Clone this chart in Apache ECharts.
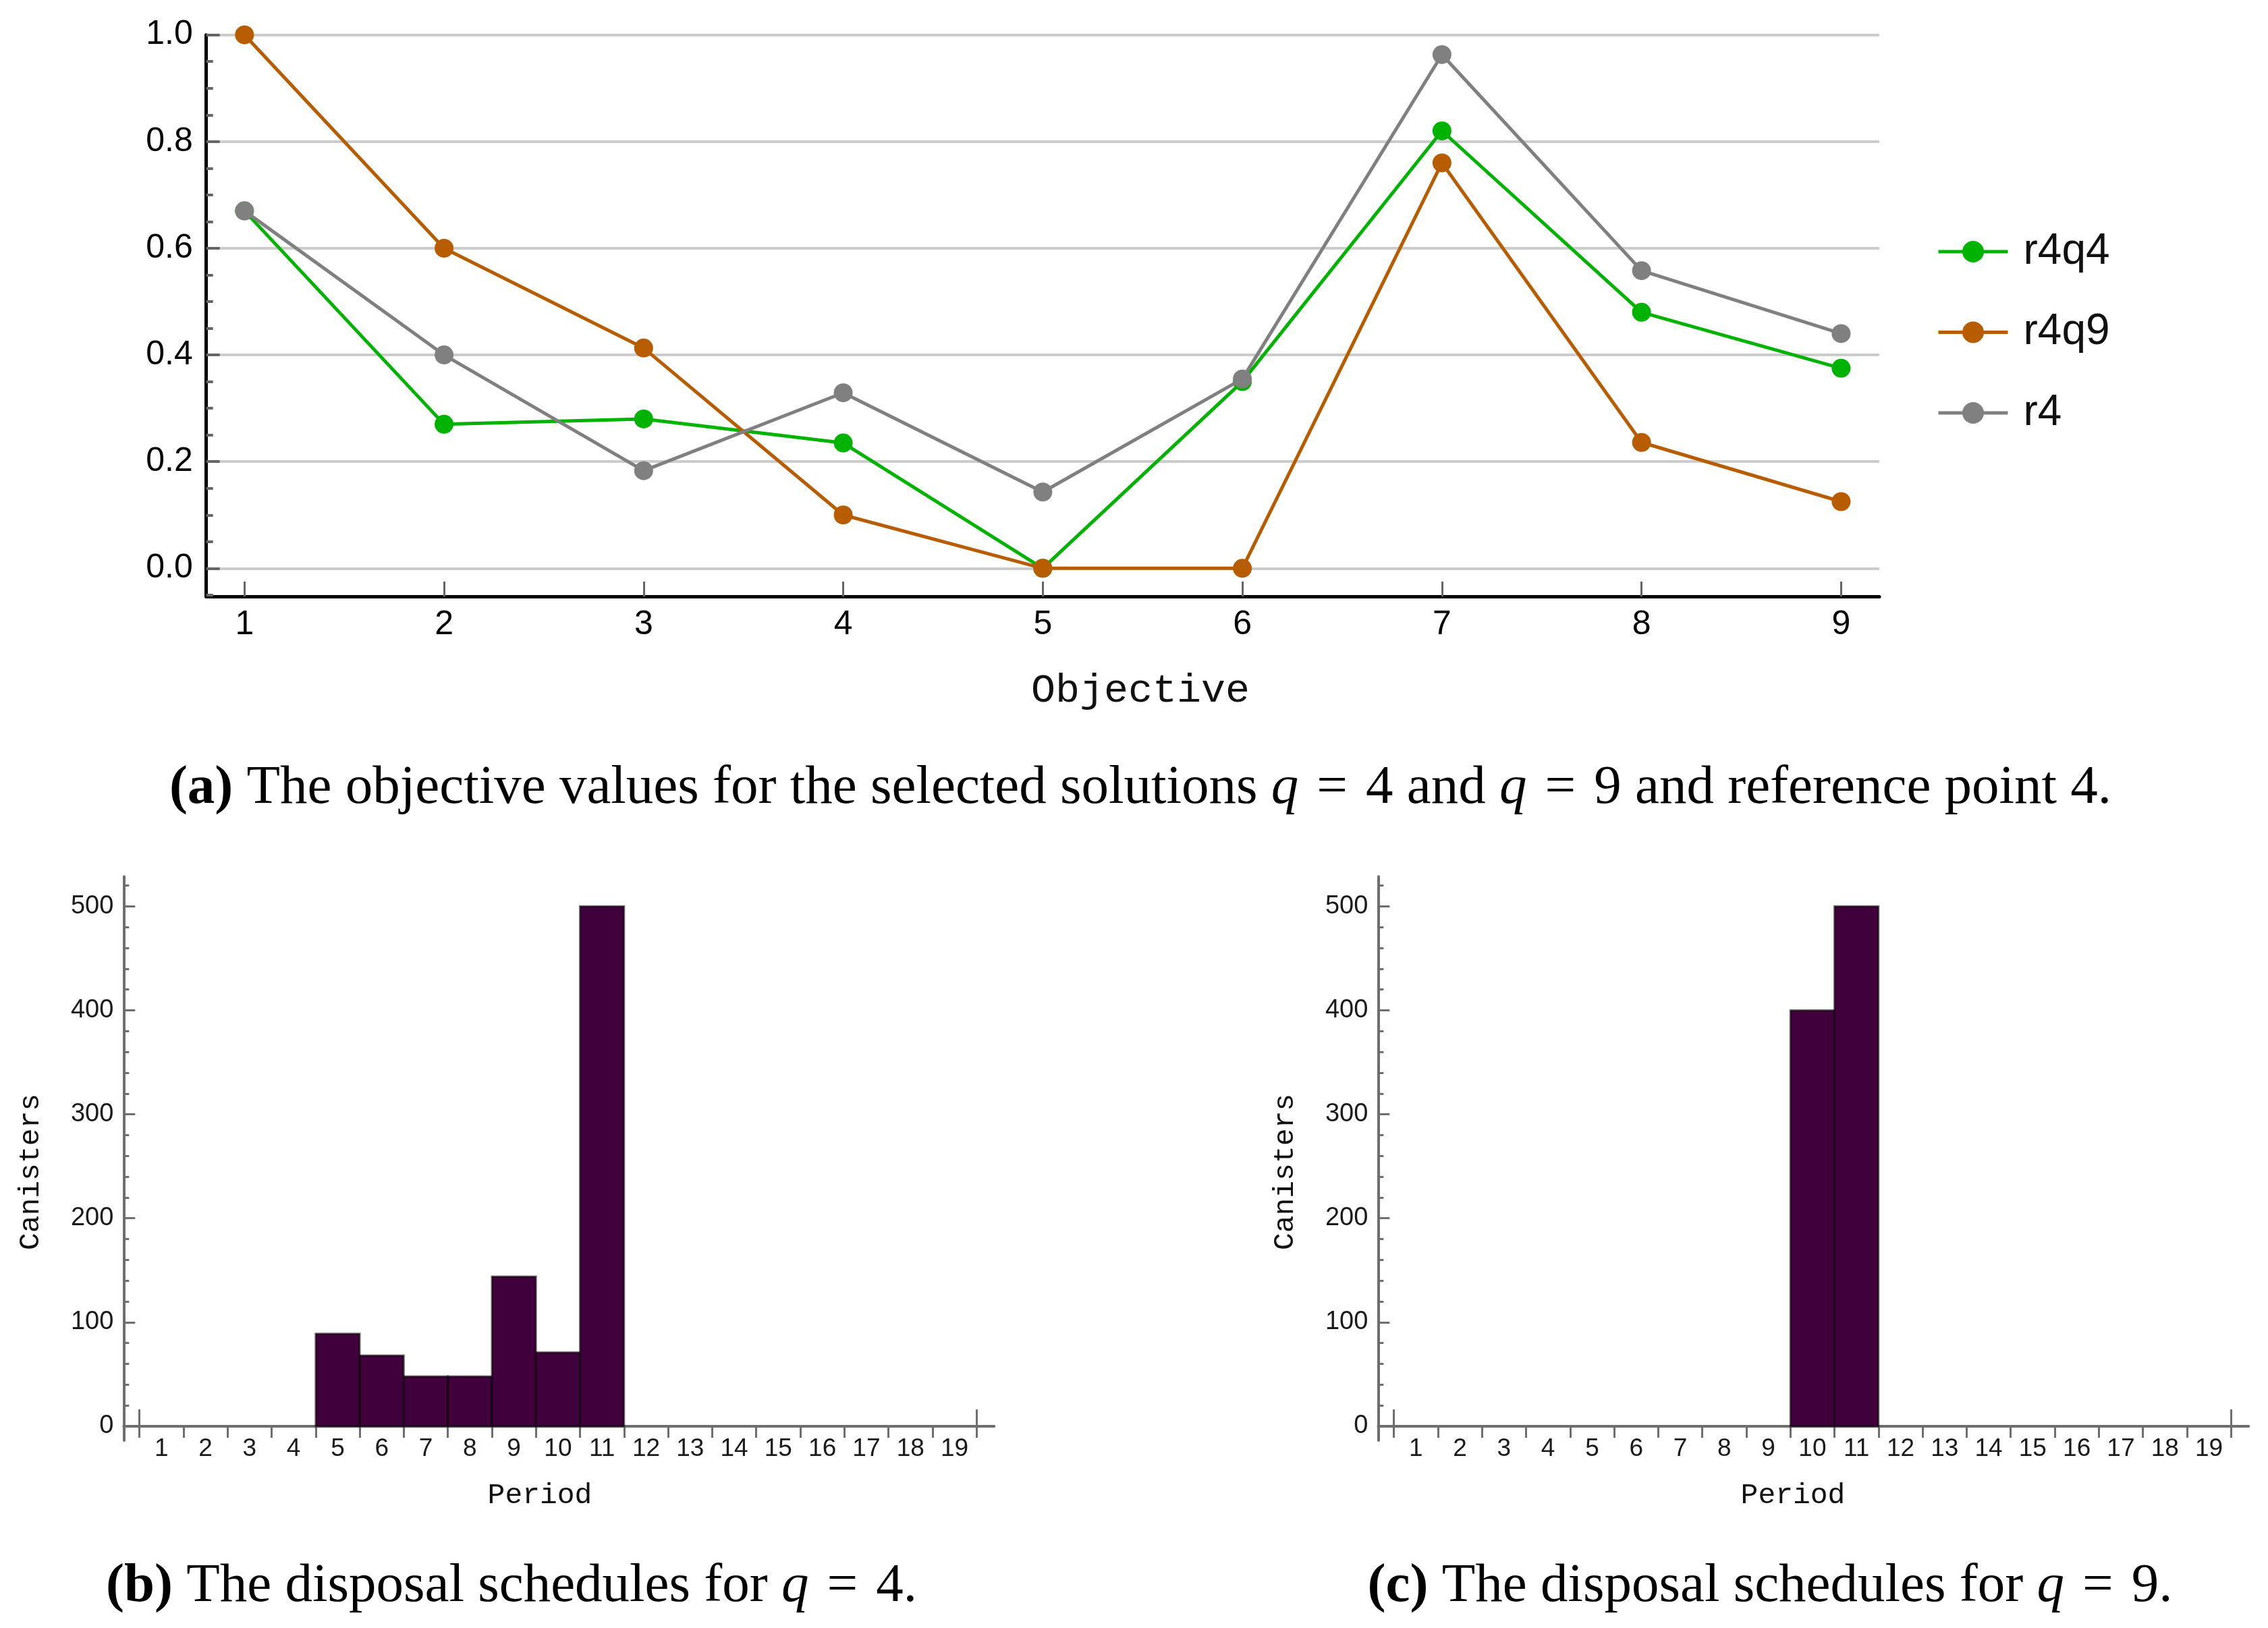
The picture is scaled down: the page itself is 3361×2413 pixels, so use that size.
<!DOCTYPE html>
<html>
<head>
<meta charset="utf-8">
<script src="https://cdn.jsdelivr.net/npm/echarts@6/dist/echarts.min.js"></script>
<style>
html,body{margin:0;padding:0;background:#fff;}
#c{width:3361px;height:2413px;}
</style>
</head>
<body>
<div id="c"></div>
<script>
// ---- data ----
const objectives = [1, 2, 3, 4, 5, 6, 7, 8, 9];
const r4q4 = [0.67, 0.27, 0.28, 0.235, 0.0, 0.35, 0.82, 0.48, 0.375];
const r4q9 = [1.0, 0.6, 0.413, 0.1, 0.0, 0.0, 0.76, 0.236, 0.125];
const r4 = [0.67, 0.4, 0.183, 0.329, 0.143, 0.355, 0.963, 0.558, 0.44];
const seriesNames = ['r4q4', 'r4q9', 'r4'];

const periods = [1,2,3,4,5,6,7,8,9,10,11,12,13,14,15,16,17,18,19];
const canistersQ4 = [0,0,0,0,89,68,48,48,144,71,500,0,0,0,0,0,0,0,0];
const canistersQ9 = [0,0,0,0,0,0,0,0,0,400,500,0,0,0,0,0,0,0,0];

const objMajorTicks = [0, 0.2, 0.4, 0.6, 0.8, 1.0];
const objMinorTicks = [-0.05, 0.05, 0.1, 0.15, 0.25, 0.3, 0.35, 0.45, 0.5, 0.55, 0.65, 0.7, 0.75, 0.85, 0.9, 0.95];
const canMajorTicks = [0, 100, 200, 300, 400, 500];
const canMinorTicks = [20, 40, 60, 80, 120, 140, 160, 180, 220, 240, 260, 280, 320, 340, 360, 380, 420, 440, 460, 480, 520];
const periodEdges = [0.5,1.5,2.5,3.5,4.5,5.5,6.5,7.5,8.5,9.5,10.5,11.5,12.5,13.5,14.5,15.5,16.5,17.5,18.5,19.5];
const periodEndEdges = [0.5, 19.5];

// ---- styles ----
const SANS = '"Liberation Sans", Arial, sans-serif';
const MONO = '"Liberation Mono", "DejaVu Sans Mono", monospace';
const SERIF = '"Liberation Serif", "DejaVu Serif", serif';
const lineColors = ['#00b300', '#b85c00', '#808080'];
const barFill = '#3f003b';
const botAxisColor = '#6e6e6e';
const CAP = 81;
const SP = '\u2004';

const chart = echarts.init(document.getElementById('c'), null, {renderer: 'canvas'});

function botX(gridIndex) {
  return [{
    type: 'value', gridIndex, min: 0.143, max: 19.9,
    axisLine: {show: true, onZero: true, lineStyle: {color: botAxisColor, width: 4}},
    axisTick: {show: true, inside: false, length: 17, customValues: periodEdges, lineStyle: {color: botAxisColor, width: 3}},
    axisLabel: {show: true, customValues: periods, margin: -6, fontSize: 37, fontFamily: SANS, color: '#1a1a1a'},
    splitLine: {show: false}
  }, {
    type: 'value', gridIndex, min: 0.143, max: 19.9,
    axisLine: {show: false, onZero: true},
    axisTick: {show: true, inside: false, length: 25, customValues: periodEndEdges, lineStyle: {color: botAxisColor, width: 3}},
    axisLabel: {show: false},
    splitLine: {show: false}
  }];
}
function botY(gridIndex) {
  return [{
    type: 'value', gridIndex, min: -13.7, max: 528.6, position: 'left',
    axisLine: {show: true, onZero: false, lineStyle: {color: botAxisColor, width: 4}},
    axisTick: {show: true, inside: true, length: 17, customValues: canMajorTicks, lineStyle: {color: botAxisColor, width: 3}},
    axisLabel: {show: true, customValues: canMajorTicks, margin: 15, fontSize: 38, fontFamily: SANS, color: '#1a1a1a'},
    splitLine: {show: false}
  }, {
    type: 'value', gridIndex, min: -13.7, max: 528.6, position: 'left',
    axisLine: {show: false, onZero: false},
    axisTick: {show: true, inside: true, length: 8, customValues: canMinorTicks, lineStyle: {color: botAxisColor, width: 3}},
    axisLabel: {show: false},
    splitLine: {show: false}
  }];
}

function barRender(params, api) {
  const x = api.value(0), v = api.value(1);
  if (!v) return {type: 'group', children: []};
  const p0 = api.coord([x - 0.5, 0]);
  const p1 = api.coord([x + 0.5, v]);
  return {
    type: 'rect',
    shape: {x: p0[0], y: p1[1], width: p1[0] - p0[0], height: p0[1] - p1[1]},
    style: {fill: barFill, stroke: 'rgba(0,0,0,0.55)', lineWidth: 3}
  };
}

const lineData = [r4q4, r4q9, r4];
const lineSeries = lineData.map((arr, i) => ({
  name: seriesNames[i], type: 'line', xAxisIndex: 0, yAxisIndex: 0,
  data: objectives.map((o, k) => [o, arr[k]]),
  symbol: 'circle', symbolSize: 28,
  lineStyle: {color: lineColors[i], width: 5},
  itemStyle: {color: lineColors[i]},
  emphasis: {disabled: true}, z: 3 + i
}));

const bx1 = botX(1), bx2 = botX(2), by1 = botY(1), by2 = botY(2);

function caption(x, y, label, body) {
  return {type: 'text', x, y, style: {
    text: '{b|' + label + '} ' + body,
    font: CAP + 'px ' + SERIF, fill: '#000', textAlign: 'center', textVerticalAlign: 'middle',
    rich: {b: {fontWeight: 'bold', fontSize: CAP, fontFamily: SERIF}, i: {fontStyle: 'italic', fontSize: CAP, fontFamily: SERIF}}
  }};
}

const option = {
  animation: false,
  backgroundColor: '#ffffff',
  grid: [
    {left: 305.7, top: 51.7, width: 2479.3, height: 832.3, outerBoundsMode: 'none'},
    {left: 183.3, top: 1299.3, width: 1290, height: 835.7, outerBoundsMode: 'none'},
    {left: 2042.3, top: 1299.3, width: 1290, height: 835.7, outerBoundsMode: 'none'}
  ],
  legend: {
    show: true, orient: 'vertical', left: 2865, top: 336,
    itemWidth: 103, itemHeight: 40, itemGap: 55.5,
    data: seriesNames,
    lineStyle: {width: 5},
    textStyle: {fontSize: 64, lineHeight: 60, fontFamily: SANS, color: '#111', padding: [0, 0, 0, 18]}
  },
  xAxis: [
    {
      type: 'value', gridIndex: 0, min: 0.8086, max: 9.1914,
      axisLine: {show: true, onZero: false, lineStyle: {color: '#000', width: 5}},
      axisTick: {show: true, inside: true, length: 22, customValues: objectives, lineStyle: {color: '#666', width: 3}},
      axisLabel: {show: true, customValues: objectives, margin: 17, fontSize: 50, fontFamily: SANS, color: '#000'},
      splitLine: {show: false}
    },
    bx1[0], bx1[1], bx2[0], bx2[1]
  ],
  yAxis: [
    {
      type: 'value', gridIndex: 0, min: -0.0527, max: 1.0, position: 'left',
      axisLine: {show: true, onZero: false, lineStyle: {color: '#000', width: 5}},
      axisTick: {show: true, inside: true, length: 20, customValues: objMajorTicks, lineStyle: {color: '#666', width: 4}},
      axisLabel: {show: true, customValues: objMajorTicks, margin: 20, fontSize: 50, fontFamily: SANS, color: '#000',
        formatter: v => Number(v).toFixed(1)},
      splitLine: {show: true, lineStyle: {color: '#cccccc', width: 4}}
    },
    {
      type: 'value', gridIndex: 0, min: -0.0527, max: 1.0, position: 'left',
      axisLine: {show: false, onZero: false},
      axisTick: {show: true, inside: true, length: 10, customValues: objMinorTicks, lineStyle: {color: '#666', width: 4}},
      axisLabel: {show: false},
      splitLine: {show: false}
    },
    by1[0], by1[1], by2[0], by2[1]
  ],
  series: lineSeries.concat([
    {
      name: 'q4', type: 'custom', xAxisIndex: 1, yAxisIndex: 2,
      data: periods.map((p, k) => [p, canistersQ4[k]]),
      encode: {x: 0, y: 1}, renderItem: barRender, z: 2
    },
    {
      name: 'q9', type: 'custom', xAxisIndex: 3, yAxisIndex: 4,
      data: periods.map((p, k) => [p, canistersQ9[k]]),
      encode: {x: 0, y: 1}, renderItem: barRender, z: 2
    }
  ]),
  graphic: [
    {type: 'text', x: 1690, y: 1024, style: {text: 'Objective', font: '60px ' + MONO, fill: '#111', textAlign: 'center', textVerticalAlign: 'middle'}},
    {type: 'text', x: 800, y: 2217, style: {text: 'Period', font: '43px ' + MONO, fill: '#111', textAlign: 'center', textVerticalAlign: 'middle'}},
    {type: 'text', x: 2657, y: 2217, style: {text: 'Period', font: '43px ' + MONO, fill: '#111', textAlign: 'center', textVerticalAlign: 'middle'}},
    {type: 'text', x: 46, y: 1737, rotation: Math.PI / 2, style: {text: 'Canisters', font: '43px ' + MONO, fill: '#111', textAlign: 'center', textVerticalAlign: 'middle'}},
    {type: 'text', x: 1905, y: 1737, rotation: Math.PI / 2, style: {text: 'Canisters', font: '43px ' + MONO, fill: '#111', textAlign: 'center', textVerticalAlign: 'middle'}},
    caption(1690, 1169, '(a)', 'The objective values for the selected solutions {i|q}' + SP + '=' + SP + '4 and {i|q}' + SP + '=' + SP + '9 and reference point 4.'),
    caption(758, 2352, '(b)', 'The disposal schedules for {i|q}' + SP + '=' + SP + '4.'),
    caption(2623, 2352, '(c)', 'The disposal schedules for {i|q}' + SP + '=' + SP + '9.')
  ]
};
chart.setOption(option);
</script>
</body>
</html>
